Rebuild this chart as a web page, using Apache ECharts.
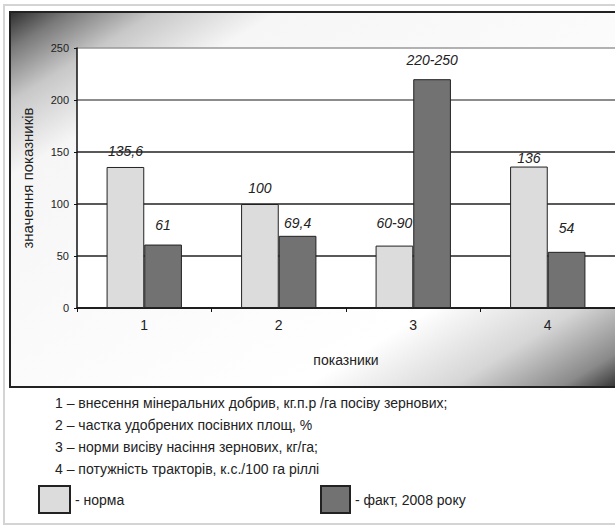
<!DOCTYPE html>
<html>
<head>
<meta charset="utf-8">
<script src="https://cdn.jsdelivr.net/npm/echarts@6/dist/echarts.min.js"></script>
<style>
html,body{margin:0;padding:0;background:#fff;}
#c{width:615px;height:527px;}
</style>
</head>
<body>
<div id="c"></div>
<script>
var categories = ['1', '2', '3', '4'];
var normValues = [135.6, 100, 60, 136];
var factValues = [61, 69.4, 220, 54];
var normLabels = ['135,6', '100', '60-90', '136'];
var factLabels = ['61', '69,4', '220-250', '54'];
var yTicks = [0, 50, 100, 150, 200, 250];
var seriesNames = ['норма', 'факт, 2008 року'];
var notes = [
  '1 – внесення мінеральних добрив, кг.п.р /га посіву зернових;',
  '2 – частка удобрених посівних площ, %',
  '3 – норми висіву насіння зернових, кг/га;',
  '4 – потужність тракторів, к.с./100 га ріллі'
];

// label gaps (styling, not data)
var normGap = [9, 9, 16, 2];
var factGap = [13, 6, 12, 17];

var FONT = '"Liberation Sans", Arial, sans-serif';
var chart = echarts.init(document.getElementById('c'), null, {renderer: 'svg'});

function buildData(vals, labels, gaps) {
  return vals.map(function (v, i) {
    return {value: v, label: {formatter: labels[i], distance: gaps[i]}};
  });
}

var labelStyle = {show: true, position: 'top', fontFamily: FONT, fontStyle: 'italic', fontSize: 14, color: '#222'};

var noteElems = notes.map(function (t, i) {
  return {type: 'text', left: 55, top: 396 + i * 22, z: 10,
    style: {text: t, font: '14px ' + FONT, fill: '#222'}};
});

chart.setOption({
  animation: false,
  backgroundColor: '#fff',
  graphic: {elements: [
    {type: 'rect', z: -10, shape: {x: 4, y: 5, width: 620, height: 519},
      style: {fill: '#fff', stroke: '#d4d4d4', lineWidth: 2}},
    {type: 'rect', z: -9, shape: {x: 10, y: 12, width: 612, height: 375},
      style: {
        fill: new echarts.graphic.LinearGradient(0, 0, 1, 1, [
          {offset: 0, color: '#2e2e2e'},
          {offset: 0.05, color: '#7a7a7a'},
          {offset: 0.12, color: '#c8c8c8'},
          {offset: 0.22, color: '#f6f6f6'},
          {offset: 0.74, color: '#ffffff'},
          {offset: 0.86, color: '#d6d6d6'},
          {offset: 0.95, color: '#8a8a8a'},
          {offset: 1, color: '#2a2a2a'}
        ]),
        stroke: '#222', lineWidth: 2
      }}
  ].concat(noteElems)},
  grid: {left: 77, right: -4, top: 48, bottom: 219, show: true, backgroundColor: '#fff', borderWidth: 0},
  legend: [
    {data: [seriesNames[0]], left: 33, top: 480, itemWidth: 31, itemHeight: 27, icon: 'rect',
      formatter: function (n) { return '- ' + n; },
      textStyle: {fontFamily: FONT, fontSize: 14, color: '#222'}},
    {data: [seriesNames[1]], left: 315, top: 480, itemWidth: 29, itemHeight: 27, icon: 'rect',
      formatter: function (n) { return '- ' + n; },
      textStyle: {fontFamily: FONT, fontSize: 14, color: '#222'}}
  ],
  xAxis: {
    type: 'category', data: categories,
    name: 'показники', nameLocation: 'middle', nameGap: 45,
    nameTextStyle: {fontFamily: FONT, fontSize: 14, color: '#222'},
    axisLine: {lineStyle: {color: '#111', width: 1.5}},
    axisTick: {show: true, length: 4, lineStyle: {color: '#111'}},
    axisLabel: {fontFamily: FONT, fontSize: 14, color: '#222', margin: 10}
  },
  yAxis: {
    type: 'value', min: yTicks[0], max: yTicks[yTicks.length - 1], interval: 50,
    name: 'значення показників', nameLocation: 'middle', nameGap: 42, nameRotate: 90,
    nameTextStyle: {fontFamily: FONT, fontSize: 15, color: '#222'},
    axisLine: {show: true, lineStyle: {color: '#111', width: 1.5}},
    axisTick: {show: true, length: 3, lineStyle: {color: '#111'}},
    axisLabel: {fontFamily: FONT, fontSize: 11, color: '#222', margin: 8},
    splitLine: {lineStyle: {color: ['#111', '#222', '#222', '#222', '#666', '#999'], width: 1.6}}
  },
  series: [
    {name: seriesNames[0], type: 'bar', barGap: '0%', barCategoryGap: '44%',
      itemStyle: {color: '#dcdcdc', borderColor: '#222', borderWidth: 1},
      label: labelStyle,
      data: buildData(normValues, normLabels, normGap)},
    {name: seriesNames[1], type: 'bar', barGap: '0%', barCategoryGap: '44%',
      itemStyle: {color: '#727272', borderColor: '#222', borderWidth: 1},
      label: labelStyle,
      data: buildData(factValues, factLabels, factGap)}
  ]
});
</script>
</body>
</html>
